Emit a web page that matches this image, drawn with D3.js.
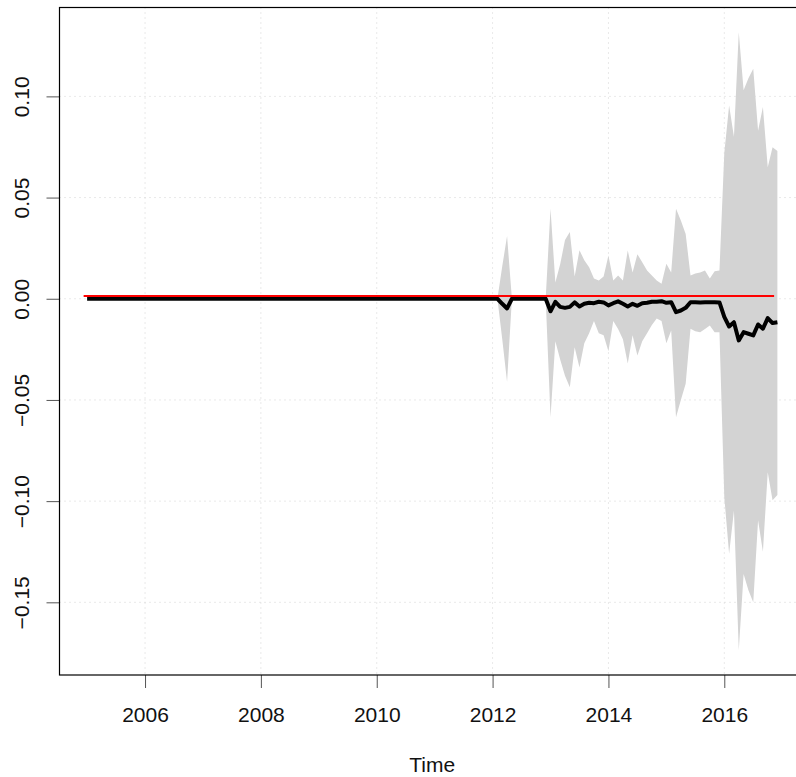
<!DOCTYPE html>
<html>
<head>
<meta charset="utf-8">
<script src="https://cdn.jsdelivr.net/npm/d3@7"></script>
<style>
  body { margin: 0; background: #fff; }
  svg { display: block; font-family: "Liberation Sans", Arial, sans-serif; }
</style>
</head>
<body>
<svg id="chart"></svg>
<script>
// monthly series, Jan 2005 .. Dec 2016
const startYear = 2005;
const freq = 12;

const fitted = [
  0, 0, 0, 0, 0, 0, 0, 0, 0, 0, 0, 0,   // 2005
  0, 0, 0, 0, 0, 0, 0, 0, 0, 0, 0, 0,   // 2006
  0, 0, 0, 0, 0, 0, 0, 0, 0, 0, 0, 0,   // 2007
  0, 0, 0, 0, 0, 0, 0, 0, 0, 0, 0, 0,   // 2008
  0, 0, 0, 0, 0, 0, 0, 0, 0, 0, 0, 0,   // 2009
  0, 0, 0, 0, 0, 0, 0, 0, 0, 0, 0, 0,   // 2010
  0, 0, 0, 0, 0, 0, 0, 0, 0, 0, 0, 0,   // 2011
  0, 0, -0.0025, -0.0048, 0, 0, 0, 0, 0, 0, 0, 0,   // 2012
  -0.0062, -0.0015, -0.0040, -0.0045, -0.0040, -0.0018, -0.0038, -0.0025, -0.0020, -0.0022, -0.0015, -0.0018,   // 2013
  -0.0033, -0.0022, -0.0013, -0.0025, -0.0038, -0.0025, -0.0035, -0.0022, -0.0020, -0.0015, -0.0015, -0.0012,   // 2014
  -0.0020, -0.0017, -0.0066, -0.0058, -0.0045, -0.0017, -0.0017, -0.0018, -0.0017, -0.0017, -0.0017, -0.0018,   // 2015
  -0.0090, -0.0137, -0.0116, -0.0206, -0.0165, -0.0173, -0.0181, -0.0127, -0.0148, -0.0096, -0.0120, -0.0116    // 2016
];

const upper = [
  0, 0, 0, 0, 0, 0, 0, 0, 0, 0, 0, 0,
  0, 0, 0, 0, 0, 0, 0, 0, 0, 0, 0, 0,
  0, 0, 0, 0, 0, 0, 0, 0, 0, 0, 0, 0,
  0, 0, 0, 0, 0, 0, 0, 0, 0, 0, 0, 0,
  0, 0, 0, 0, 0, 0, 0, 0, 0, 0, 0, 0,
  0, 0, 0, 0, 0, 0, 0, 0, 0, 0, 0, 0,
  0, 0, 0, 0, 0, 0, 0, 0, 0, 0, 0, 0,
  0, 0, 0.016, 0.031, 0, 0, 0, 0, 0, 0, 0, 0,
  0.0445, 0.008, 0.017, 0.029, 0.033, 0.011, 0.024, 0.019, 0.0156, 0.010, 0.009, 0.011,
  0.0214, 0.009, 0.0115, 0.009, 0.0239, 0.013, 0.022, 0.018, 0.014, 0.0115, 0.009, 0.0074,
  0.0173, 0.013, 0.0445, 0.0387, 0.032, 0.0115, 0.0125, 0.013, 0.014, 0.010, 0.0136, 0.014,
  0.072, 0.0955, 0.080, 0.1317, 0.103, 0.109, 0.1136, 0.083, 0.0947, 0.065, 0.0749, 0.073
];

const lower = [
  0, 0, 0, 0, 0, 0, 0, 0, 0, 0, 0, 0,
  0, 0, 0, 0, 0, 0, 0, 0, 0, 0, 0, 0,
  0, 0, 0, 0, 0, 0, 0, 0, 0, 0, 0, 0,
  0, 0, 0, 0, 0, 0, 0, 0, 0, 0, 0, 0,
  0, 0, 0, 0, 0, 0, 0, 0, 0, 0, 0, 0,
  0, 0, 0, 0, 0, 0, 0, 0, 0, 0, 0, 0,
  0, 0, 0, 0, 0, 0, 0, 0, 0, 0, 0, 0,
  0, 0, -0.020, -0.041, 0, 0, 0, 0, 0, 0, 0, 0,
  -0.0585, -0.021, -0.030, -0.038, -0.0437, -0.024, -0.034, -0.022, -0.017, -0.011, -0.017, -0.018,
  -0.026, -0.011, -0.015, -0.020, -0.032, -0.018, -0.028, -0.021, -0.017, -0.013, -0.0098, -0.011,
  -0.022, -0.0157, -0.0585, -0.050, -0.042, -0.0148, -0.016, -0.0165, -0.015, -0.0132, -0.0165, -0.0165,
  -0.098, -0.126, -0.1046, -0.1737, -0.136, -0.144, -0.150, -0.1095, -0.125, -0.0857, -0.0996, -0.097
];

// red reference line
const refLevel = 0.0013;
const refSpan = [2004.94, 2016.86];

const xTicks = [2006, 2008, 2010, 2012, 2014, 2016];
const yTicks = [-0.15, -0.10, -0.05, 0.00, 0.05, 0.10];
const xTitle = "Time";

class BandChart {

  constructor(_config, _data) {
    this.config = {
      parentElement: _config.parentElement,
      containerWidth: _config.containerWidth || 796,
      containerHeight: _config.containerHeight || 777,
      margin: { top: 7.5, bottom: 102, right: -9, left: 59.5 }
    }
    this.data = _data;
    this.initVis();
  }

  initVis() {
    let vis = this;

    vis.width = vis.config.containerWidth - vis.config.margin.left - vis.config.margin.right;
    vis.height = vis.config.containerHeight - vis.config.margin.top - vis.config.margin.bottom;

    vis.svg = d3.select(vis.config.parentElement)
      .attr('width', vis.config.containerWidth)
      .attr('height', vis.config.containerHeight);

    vis.chart = vis.svg.append('g')
      .attr('transform', `translate(${vis.config.margin.left},${vis.config.margin.top})`);

    // R style 4% padding on both axes
    let xExt = d3.extent(vis.data, d => d.t);
    let xPad = (xExt[1] - xExt[0]) * 0.04;
    let yExt = [d3.min(vis.data, d => d.lo), d3.max(vis.data, d => d.hi)];
    let yPad = (yExt[1] - yExt[0]) * 0.04;

    vis.xScale = d3.scaleLinear()
      .domain([xExt[0] - xPad, xExt[1] + xPad])
      .range([0, vis.width]);

    vis.yScale = d3.scaleLinear()
      .domain([yExt[0] - yPad, yExt[1] + yPad])
      .range([vis.height, 0]);

    // dotted grid
    vis.chart.append('g').selectAll('line.gx')
      .data(xTicks)
      .join('line')
        .attr('x1', d => vis.xScale(d)).attr('x2', d => vis.xScale(d))
        .attr('y1', 0).attr('y2', vis.height)
        .attr('stroke', '#d3d3d3')
        .attr('stroke-dasharray', '1,4');

    vis.chart.append('g').selectAll('line.gy')
      .data(yTicks)
      .join('line')
        .attr('y1', d => vis.yScale(d)).attr('y2', d => vis.yScale(d))
        .attr('x1', 0).attr('x2', vis.width)
        .attr('stroke', '#d3d3d3')
        .attr('stroke-dasharray', '1,4');

    // confidence band
    let area = d3.area()
      .x(d => vis.xScale(d.t))
      .y0(d => vis.yScale(d.lo))
      .y1(d => vis.yScale(d.hi));

    vis.chart.append('path')
      .datum(vis.data)
      .attr('fill', '#d3d3d3')
      .attr('d', area);

    // fitted line
    let line = d3.line()
      .x(d => vis.xScale(d.t))
      .y(d => vis.yScale(d.v));

    vis.chart.append('path')
      .datum(vis.data)
      .attr('fill', 'none')
      .attr('stroke', '#000')
      .attr('stroke-width', 4)
      .attr('stroke-linejoin', 'round')
      .attr('d', line);

    // red reference
    vis.chart.append('line')
      .attr('x1', vis.xScale(refSpan[0]))
      .attr('x2', vis.xScale(refSpan[1]))
      .attr('y1', vis.yScale(refLevel))
      .attr('y2', vis.yScale(refLevel))
      .attr('stroke', '#ff0000')
      .attr('stroke-width', 2);

    // axes
    vis.xAxis = d3.axisBottom(vis.xScale)
      .tickValues(xTicks)
      .tickFormat(d3.format('d'))
      .tickSize(13)
      .tickSizeOuter(0);

    vis.yAxis = d3.axisLeft(vis.yScale)
      .tickValues(yTicks)
      .tickFormat(d3.format('.2f'))
      .tickSize(13)
      .tickSizeOuter(0);

    vis.xAxisGroup = vis.chart.append('g')
      .attr('class', 'axis x-axis')
      .attr('transform', `translate(0, ${vis.height})`)
      .call(vis.xAxis);
    vis.xAxisGroup.select('.domain').remove();
    vis.xAxisGroup.selectAll('.tick line').attr('stroke', '#555');
    vis.xAxisGroup.selectAll('.tick text')
      .attr('y', 46.5)
      .attr('dy', null)
      .attr('fill', '#111')
      .style('font-size', '21px');

    vis.yAxisGroup = vis.chart.append('g')
      .attr('class', 'axis y-axis')
      .call(vis.yAxis);
    vis.yAxisGroup.select('.domain').remove();
    vis.yAxisGroup.selectAll('.tick line').attr('stroke', '#555');
    vis.yAxisGroup.selectAll('.tick text')
      .text(d => d3.format('.2f')(d).replace('-', '\u2212'))
      .attr('x', null).attr('dy', null)
      .attr('text-anchor', 'middle')
      .attr('transform', `translate(${28.5 - vis.config.margin.left},0) rotate(-90)`)
      .attr('fill', '#111')
      .style('font-size', '21px');

    // box
    vis.chart.append('rect')
      .attr('width', vis.width)
      .attr('height', vis.height)
      .attr('fill', 'none')
      .attr('stroke', '#000')
      .attr('stroke-width', 1.2);

    // axis title
    vis.chart.append('text')
      .attr('x', vis.width / 2)
      .attr('y', vis.height + 97)
      .attr('text-anchor', 'middle')
      .attr('fill', '#111')
      .style('font-size', '21px')
      .text(xTitle);
  }
}

let rows = fitted.map((v, i) => ({
  t: startYear + i / freq,
  v: v,
  hi: upper[i],
  lo: lower[i]
}));

new BandChart({ parentElement: '#chart' }, rows);
</script>
</body>
</html>
